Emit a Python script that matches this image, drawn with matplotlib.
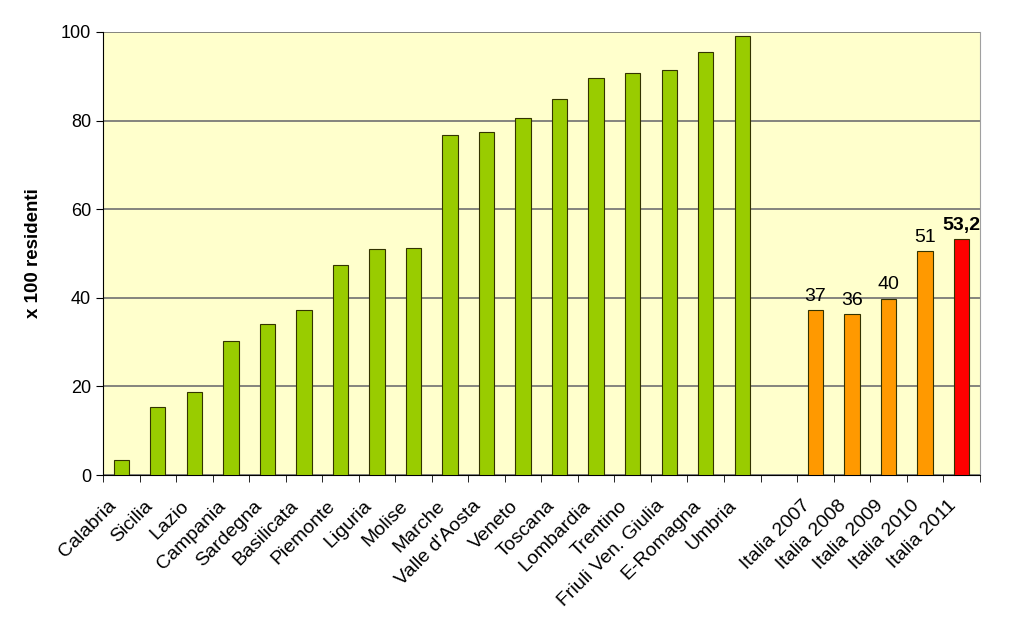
import matplotlib.pyplot as plt

plt.rcParams["font.family"] = ["Liberation Sans", "DejaVu Sans"]

regions = [
    "Calabria", "Sicilia", "Lazio", "Campania", "Sardegna", "Basilicata",
    "Piemonte", "Liguria", "Molise", "Marche", "Valle d'Aosta", "Veneto",
    "Toscana", "Lombardia", "Trentino", "Friuli Ven. Giulia", "E-Romagna",
    "Umbria",
]
region_values = [
    3.5, 15.3, 18.7, 30.2, 34.0, 37.2, 47.4, 51.0, 51.2, 76.7, 77.4,
    80.6, 84.9, 89.6, 90.7, 91.4, 95.5, 99.1,
]

years = ["Italia 2007", "Italia 2008", "Italia 2009", "Italia 2010", "Italia 2011"]
year_values = [37.2, 36.3, 39.8, 50.6, 53.2]
year_labels = ["37", "36", "40", "51", "53,2"]

labels = regions + [""] + years
n = len(labels)
region_pos = list(range(len(regions)))
year_pos = [len(regions) + 1 + i for i in range(len(years))]

fig = plt.figure(figsize=(10.23, 6.26), dpi=100)
ax = fig.add_axes([0.1007, 0.241, 0.857, 0.708])
ax.set_facecolor("#FFFFCC")

ax.bar(region_pos, region_values, width=0.42, color="#99CC00",
       edgecolor="#333300", linewidth=0.8, zorder=3)
year_colors = ["#FF9900"] * 4 + ["#FF0000"]
ax.bar(year_pos, year_values, width=0.42, color=year_colors,
       edgecolor="#333300", linewidth=0.8, zorder=3)

for i, (x, v, t) in enumerate(zip(year_pos, year_values, year_labels)):
    ax.text(x, v + 1.2, t, ha="center", va="bottom", fontsize=14,
            fontweight="bold" if i == len(years) - 1 else "normal")

ax.set_xlim(-0.5, n - 0.5)
ax.set_ylim(0, 100)
ax.set_yticks([0, 20, 40, 60, 80, 100])
ax.yaxis.grid(True, color="#707070", linewidth=1.2, zorder=1)
ax.tick_params(axis="y", labelsize=13, length=5, direction="out")

ax.set_xticks([i - 0.38 for i in range(n)])
ax.set_xticklabels(labels, rotation=45, ha="right", rotation_mode="anchor",
                   fontsize=14)
ax.tick_params(axis="x", which="major", length=0, pad=16)
ax.set_xticks([i - 0.5 for i in range(n + 1)], minor=True)
ax.tick_params(axis="x", which="minor", length=5, direction="out")

ax.spines["top"].set_visible(False)
ax.spines["right"].set_color("#A0A0A0")
ax.spines["left"].set_color("black")
ax.spines["bottom"].set_color("black")

ax.set_ylabel("x 100 residenti", fontsize=13.5, fontweight="bold", labelpad=14)

plt.savefig("out.png", dpi=100)
plt.close()
